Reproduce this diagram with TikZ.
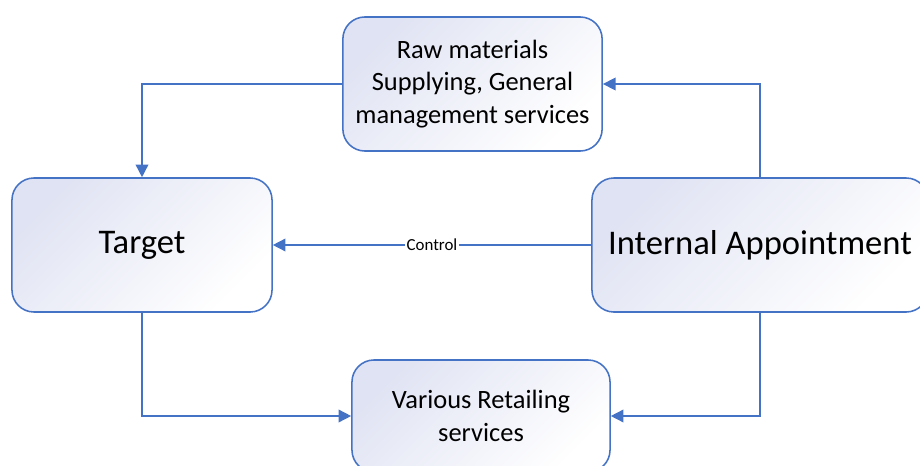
\documentclass[tikz,border=0pt]{standalone}
\usepackage{fontspec}
\setmainfont{Carlito}
\usepackage{tikz}
\usetikzlibrary{arrows.meta}
\definecolor{boxline}{RGB}{68,114,196}
\definecolor{boxshade}{RGB}{224,227,243}
\tikzset{
    % rounded boxes with a soft diagonal fill
    flowbox/.style={
        rectangle,
        rounded corners=0.55cm,
        draw=boxline,
        line width=1.1pt,
        top color=boxshade,
        bottom color=white,
        shading angle=45,
        align=center,
        inner sep=2pt
    },
    % blue connector with a solid head
    flowarrow/.style={
        line width=1.1pt,
        boxline,
        ->,
        >={Triangle[length=9pt, width=9pt]}
    },
    ctrllabel/.style={
        fill=white,
        text=black,
        inner sep=1pt,
        font=\fontsize{12}{14}\selectfont
    }
}

\begin{document}
\begin{tikzpicture}[x=0.025cm,y=0.025cm]
    \clip (0,0) rectangle (920,-466);
    \useasboundingbox (0,0) rectangle (920,-466);

    \node[flowbox, minimum width=6.48cm, minimum height=3.35cm,
        font=\fontsize{18.8}{23}\selectfont] (supply) at (472.5,-84)
        {Raw materials\\Supplying, General\\management services};
    \node[flowbox, minimum width=6.5cm, minimum height=3.35cm,
        font=\fontsize{24.6}{29}\selectfont] (target) at (142,-245) {Target};
    \node[flowbox, minimum width=8.4cm, minimum height=3.35cm,
        font=\fontsize{24.6}{29}\selectfont] (internal) at (760,-245) {Internal Appointment};
    \node[flowbox, minimum width=6.45cm, minimum height=2.8cm,
        font=\fontsize{18.8}{23}\selectfont] (retail) at (481,-416)
        {Various Retailing\\services};

    \draw[flowarrow] (supply.west) -| (target.north);
    \draw[flowarrow] (internal.north) |- (supply.east);
    \draw[flowarrow] (internal.west) -- node[ctrllabel] {Control} (target.east);
    \draw[flowarrow] (target.south) |- (retail.west);
    \draw[flowarrow] (internal.south) |- (retail.east);
\end{tikzpicture}
\end{document}
